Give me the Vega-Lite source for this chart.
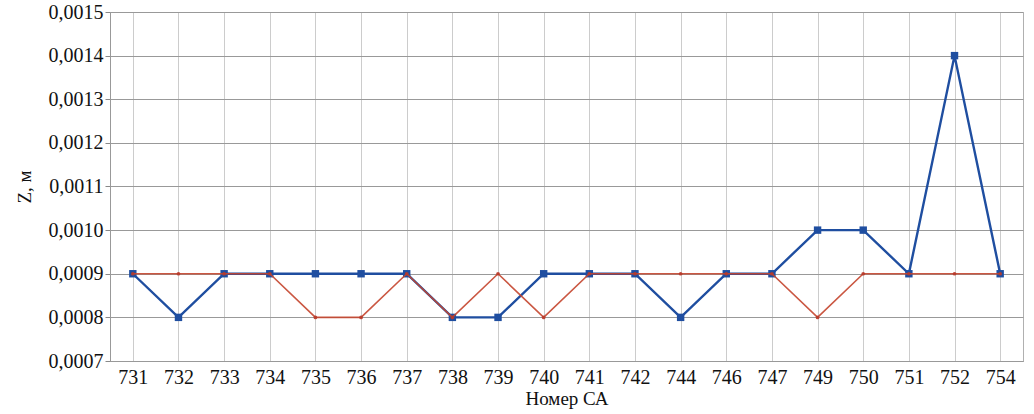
{
  "$schema": "https://vega.github.io/schema/vega-lite/v6.json",
  "width": 913,
  "height": 349,
  "autosize": {"type": "none"},
  "padding": {"left": 110, "top": 12, "right": 11, "bottom": 53},
  "background": "white",
  "config": {
    "font": "'Liberation Serif', 'DejaVu Serif', 'Times New Roman', serif",
    "view": {"stroke": "#b0b0b0", "strokeWidth": 1},
    "axis": {"labelFont": "'Liberation Serif', 'DejaVu Serif', 'Times New Roman', serif", "titleFont": "'Liberation Serif', 'DejaVu Serif', 'Times New Roman', serif", "labelColor": "#111", "titleColor": "#111"}
  },
  "data": {
    "values": [
      {"ca": "731", "blue": 0.0009, "red": 0.0009},
      {"ca": "732", "blue": 0.0008, "red": 0.0009},
      {"ca": "733", "blue": 0.0009, "red": 0.0009},
      {"ca": "734", "blue": 0.0009, "red": 0.0009},
      {"ca": "735", "blue": 0.0009, "red": 0.0008},
      {"ca": "736", "blue": 0.0009, "red": 0.0008},
      {"ca": "737", "blue": 0.0009, "red": 0.0009},
      {"ca": "738", "blue": 0.0008, "red": 0.0008},
      {"ca": "739", "blue": 0.0008, "red": 0.0009},
      {"ca": "740", "blue": 0.0009, "red": 0.0008},
      {"ca": "741", "blue": 0.0009, "red": 0.0009},
      {"ca": "742", "blue": 0.0009, "red": 0.0009},
      {"ca": "744", "blue": 0.0008, "red": 0.0009},
      {"ca": "746", "blue": 0.0009, "red": 0.0009},
      {"ca": "747", "blue": 0.0009, "red": 0.0009},
      {"ca": "749", "blue": 0.0010, "red": 0.0008},
      {"ca": "750", "blue": 0.0010, "red": 0.0009},
      {"ca": "751", "blue": 0.0009, "red": 0.0009},
      {"ca": "752", "blue": 0.0014, "red": 0.0009},
      {"ca": "754", "blue": 0.0009, "red": 0.0009}
    ]
  },
  "encoding": {
    "x": {
      "field": "ca", "type": "ordinal", "sort": null,
      "scale": {"type": "point", "padding": 0.5},
      "axis": {
        "title": "Номер СА", "labelAngle": 0, "labelFontSize": 20, "titleFontSize": 19,
        "titleFontWeight": "normal", "ticks": false, "labelPadding": 6, "titlePadding": 2,
        "grid": true, "gridColor": "#cccccc", "gridWidth": 1,
        "domainColor": "#999999", "labelOverlap": false
      }
    }
  },
  "layer": [
    {
      "mark": {"type": "line", "color": "#1f4ea0", "strokeWidth": 2.4},
      "encoding": {
        "y": {
          "field": "blue", "type": "quantitative",
          "scale": {"domain": [0.0007, 0.0015], "nice": false, "zero": false},
          "axis": {
            "title": "Z, м", "values": [0.0007, 0.0008, 0.0009, 0.001, 0.0011, 0.0012, 0.0013, 0.0014, 0.0015],
            "labelExpr": "replace(format(datum.value, '.4f'), '.', ',')",
            "labelFontSize": 20, "titleFontSize": 19, "titleFontWeight": "normal",
            "tickSize": 5, "tickColor": "#888888", "labelPadding": 2, "titlePadding": 14,
            "grid": true, "gridColor": "#999999", "gridWidth": 1, "domainColor": "#999999",
            "labelOverlap": false
          }
        }
      }
    },
    {
      "mark": {"type": "point", "shape": "square", "filled": true, "color": "#1f4ea0", "size": 55, "opacity": 1},
      "encoding": {"y": {"field": "blue", "type": "quantitative"}}
    },
    {
      "mark": {"type": "line", "color": "#c4452e", "strokeWidth": 1.6, "opacity": 0.9},
      "encoding": {"y": {"field": "red", "type": "quantitative"}}
    },
    {
      "mark": {"type": "point", "shape": "circle", "filled": true, "color": "#b83a2a", "size": 14, "opacity": 0.9},
      "encoding": {"y": {"field": "red", "type": "quantitative"}}
    }
  ]
}
